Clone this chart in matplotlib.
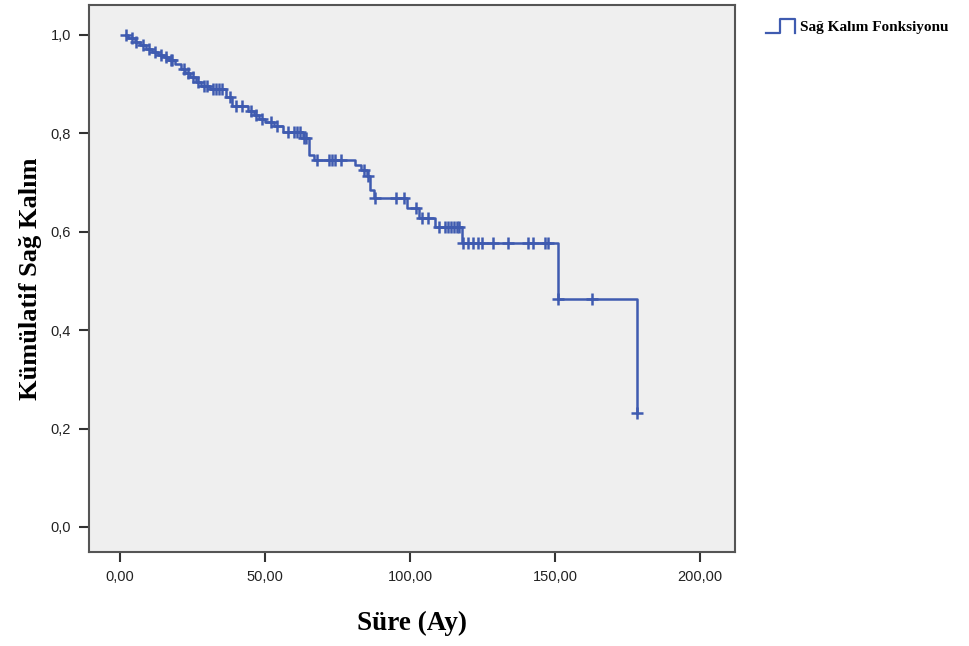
import numpy as np
import matplotlib
matplotlib.use("Agg")
import matplotlib.pyplot as plt
from matplotlib.legend_handler import HandlerBase
from matplotlib.lines import Line2D

# Kaplan-Meier step function: event times (months) and survival after each event
event_times = [2.8, 5, 7, 9, 11, 13, 15, 17, 19, 21, 22.5, 24, 26, 28, 31,
               36.5, 38.5, 44, 46, 48, 50, 53, 56, 63, 65, 67, 81, 83, 85, 86,
               87.5, 99, 103, 108.5, 118, 151, 178.2]
survival = [0.993, 0.986, 0.979, 0.972, 0.966, 0.960, 0.955, 0.950, 0.940, 0.930,
            0.922, 0.914, 0.905, 0.897, 0.890, 0.874, 0.856, 0.846, 0.838, 0.830,
            0.823, 0.815, 0.802, 0.791, 0.757, 0.746, 0.736, 0.726, 0.713, 0.685,
            0.668, 0.648, 0.628, 0.610, 0.577, 0.463, 0.232]

# Censored observations (months)
censor_times = [2, 4, 5.5, 8, 10, 12, 14, 16, 17.5, 18, 22, 23.5, 25, 27, 29, 30,
                32, 33, 34, 35, 38, 40, 42, 45, 47, 49, 52, 54, 58, 60, 61, 62,
                63.5, 64, 68, 72, 73, 74, 76, 84, 85.5, 88, 95, 98, 102, 104,
                106, 110, 112, 113, 114, 115, 116, 117, 118.3, 120, 121.7, 123.4,
                124.8, 128.6, 133.8, 140.7, 142.4, 146.6, 147.6, 151, 162.8, 178.2]

x_ticks = [0, 50, 100, 150, 200]
y_ticks = [0.0, 0.2, 0.4, 0.6, 0.8, 1.0]

line_color = "#3f5bb0"

fig = plt.figure(figsize=(9.70, 6.46), dpi=100)
ax = fig.add_axes([0.0918, 0.1455, 0.666, 0.8468])
ax.set_facecolor("#efefef")

# step curve starting at S=1 at time 0
t_path = np.concatenate([[0.0], event_times])
s_path = np.concatenate([[1.0], survival])
# first visible segment begins where the earliest observation sits
start_t = min(min(censor_times), event_times[0])
t_draw = np.concatenate([[start_t], t_path[1:]])
s_draw = np.concatenate([[1.0], s_path[1:]])
ax.step(t_draw, s_draw, where="post", color=line_color, lw=1.8)

# censor marks sit on the curve value at their time
idx = np.searchsorted(t_path, censor_times, side="right") - 1
censor_s = s_path[idx]
ax.plot(censor_times, censor_s, linestyle="none", marker="+", ms=9, mew=1.8,
        color=line_color)

ax.set_xlim(-10.7, 212)
ax.set_ylim(-0.051, 1.061)
ax.set_xticks(x_ticks)
ax.set_xticklabels([f"{v:.2f}".replace(".", ",") for v in x_ticks])
ax.set_yticks(y_ticks)
ax.set_yticklabels([f"{v:.1f}".replace(".", ",") for v in y_ticks])
ax.tick_params(direction="out", length=7, width=1.5, colors="#333333",
               labelsize=10.5, labelcolor="#222222", pad=6)
for lab in ax.get_xticklabels() + ax.get_yticklabels():
    lab.set_family("Liberation Sans")
for sp in ax.spines.values():
    sp.set_color("#555555")
    sp.set_linewidth(1.5)

ax.set_xlabel("Süre (Ay)", fontfamily="Liberation Serif", fontweight="bold",
              fontsize=19.5, labelpad=19)
ax.set_ylabel("Kümülatif Sağ Kalım", fontfamily="Liberation Serif",
              fontweight="bold", fontsize=19, labelpad=6)


class StepHandler(HandlerBase):
    def create_artists(self, legend, orig_handle, xdescent, ydescent, width,
                       height, fontsize, trans):
        x0, y0 = -xdescent, -ydescent
        xs = [x0, x0 + 0.45 * width, x0 + 0.45 * width, x0 + width, x0 + width]
        ys = [y0 - 0.15 * height, y0 - 0.15 * height, y0 + 1.15 * height,
              y0 + 1.15 * height, y0 - 0.15 * height]
        ln = Line2D(xs, ys, color=line_color, lw=1.6, transform=trans)
        return [ln]


handle = Line2D([], [], color=line_color)
leg = fig.legend([handle], ["Sağ Kalım Fonksiyonu"],
                 handler_map={Line2D: StepHandler()},
                 loc="upper left", bbox_to_anchor=(0.776, 0.99),
                 frameon=False, handlelength=1.9, handletextpad=0.3,
                 prop={"family": "Liberation Serif", "weight": "bold",
                       "size": 11})

fig.savefig("out.png", dpi=100, facecolor="white")
